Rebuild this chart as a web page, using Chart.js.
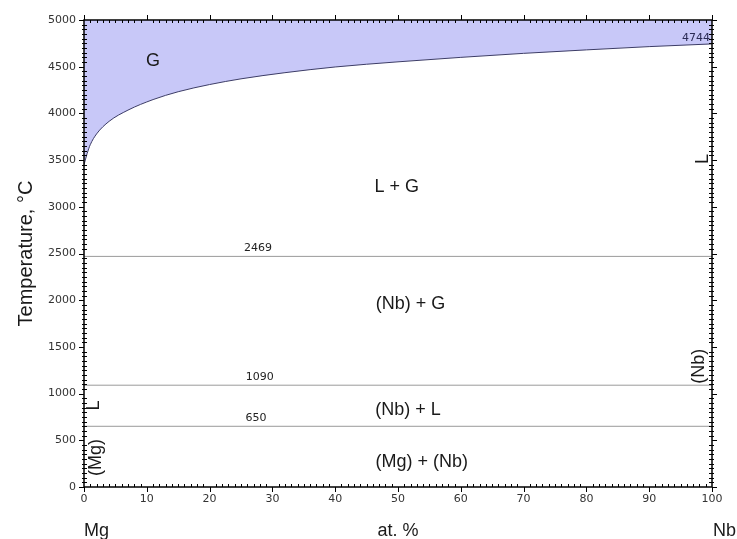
<!DOCTYPE html>
<html>
<head>
<meta charset="utf-8">
<script src="https://cdn.jsdelivr.net/npm/chart.js@4"></script>
<style>
    body { margin: 0; background: #fff; }
    #wrap { width: 737px; height: 539px; }
</style>
</head>
<body>
<div id="wrap"><canvas id="phaseChart" width="737" height="539"></canvas></div>
<script>
// Composition, at.% Nb
const compNb = [0, 0.5, 1, 2, 4, 7, 11, 15, 20, 25, 32, 40, 50, 60, 70, 80, 90, 100];
// Gas boundary (L + G / G), degC
const gasLine = [3450, 3570, 3665, 3780, 3915, 4035, 4148, 4232, 4309, 4370, 4436, 4497, 4552, 4600, 4643, 4680, 4715, 4744];

// Invariant temperatures
const isotherms = [2469, 1090, 650];

// Phase labels
const phaseLabels = ["G", "L + G", "(Nb) + G", "(Nb) + L", "(Mg) + (Nb)"];
const phaseX = [11.0, 49.8, 52.0, 51.6, 53.8];
const phaseY = [4561, 3217, 1957, 829, 262];

const FONT = "'Liberation Sans', Arial, sans-serif";

// Build datasets from the arrays
const datasets = [
    {
        data: compNb.map((c, i) => ({ x: c, y: gasLine[i] })),
        borderColor: "#3c3c66",
        borderWidth: 1,
        backgroundColor: "rgba(200, 200, 248, 1)",
        fill: "end",
        pointRadius: 0,
        cubicInterpolationMode: "monotone"
    }
];
isotherms.forEach(t => {
    datasets.push({
        data: [{ x: 0, y: t }, { x: 100, y: t }],
        borderColor: "#9a9a9a",
        borderWidth: 1,
        pointRadius: 0,
        fill: false
    });
});

// Frame, tick marks and texts
const decorPlugin = {
    id: "decor",
    afterDatasetsDraw(chart) {
        const { ctx, chartArea: a, scales: { x, y } } = chart;
        ctx.save();
        ctx.strokeStyle = "#000";
        ctx.lineWidth = 1;
        ctx.beginPath();
        for (let v = 0; v <= 100; v += 1) {
            const px = Math.round(x.getPixelForValue(v)) + 0.5;
            if (v % 10 === 0) {
                ctx.moveTo(px, a.bottom); ctx.lineTo(px, a.bottom + 5);
                ctx.moveTo(px, a.top); ctx.lineTo(px, a.top - 5);
            } else {
                ctx.moveTo(px, a.bottom - 3); ctx.lineTo(px, a.bottom);
                ctx.moveTo(px, a.top + 3); ctx.lineTo(px, a.top);
            }
        }
        for (let v = 0; v <= 5000; v += 50) {
            const py = Math.round(y.getPixelForValue(v)) + 0.5;
            if (v % 500 === 0) {
                ctx.moveTo(a.left - 5, py); ctx.lineTo(a.left, py);
                ctx.moveTo(a.right, py); ctx.lineTo(a.right + 5, py);
            } else {
                ctx.moveTo(a.left - 2, py); ctx.lineTo(a.left + 3, py);
                ctx.moveTo(a.right - 3, py); ctx.lineTo(a.right + 2, py);
            }
        }
        ctx.stroke();
        ctx.lineWidth = 1.5;
        ctx.strokeRect(a.left, a.top, a.right - a.left, a.bottom - a.top);

        // phase labels
        ctx.fillStyle = "#1a1a1a";
        ctx.font = "18px " + FONT;
        ctx.textAlign = "center";
        ctx.textBaseline = "middle";
        phaseLabels.forEach((t, i) => {
            ctx.fillText(t, x.getPixelForValue(phaseX[i]), y.getPixelForValue(phaseY[i]));
        });

        // isotherm values
        ctx.font = "11px 'DejaVu Sans', sans-serif";
        ctx.fillStyle = "#222";
        ctx.textBaseline = "bottom";
        const isoX = [27.7, 28.0, 27.4];
        isotherms.forEach((t, i) => {
            ctx.fillText(String(t), x.getPixelForValue(isoX[i]), y.getPixelForValue(t) - 3);
        });
        ctx.textAlign = "right";
        ctx.textBaseline = "middle";
        ctx.fillStyle = "#2b2b55";
        ctx.fillText(String(gasLine[gasLine.length - 1]), a.right - 2, y.getPixelForValue(4744) - 6);

        // rotated phase names at the edges
        const rot = (t, xv, yv) => {
            ctx.save();
            ctx.translate(x.getPixelForValue(xv), y.getPixelForValue(yv));
            ctx.rotate(-Math.PI / 2);
            ctx.font = "18px " + FONT;
            ctx.textAlign = "center";
            ctx.textBaseline = "middle";
            ctx.fillStyle = "#1a1a1a";
            ctx.fillText(t, 0, 0);
            ctx.restore();
        };
        rot("L", 1.6, 872);
        rot("(Mg)", 1.9, 315);
        rot("L", 98.5, 3513);
        rot("(Nb)", 97.9, 1294);

        // axis titles
        ctx.font = "18px " + FONT;
        ctx.textAlign = "center";
        ctx.textBaseline = "middle";
        ctx.fillStyle = "#1a1a1a";
        ctx.fillText("Mg", x.getPixelForValue(2.0), 531);
        ctx.fillText("at. %", (a.left + a.right) / 2, 531);
        ctx.fillText("Nb", x.getPixelForValue(102), 531);
        ctx.save();
        ctx.translate(26, y.getPixelForValue(2500));
        ctx.rotate(-Math.PI / 2);
        ctx.font = "20px " + FONT;
        ctx.fillText("Temperature, \u00B0C", 0, 0);
        ctx.restore();
        ctx.restore();
    }
};

const ctx = document.getElementById("phaseChart").getContext("2d");
new Chart(ctx, {
    type: "line",
    data: { datasets: datasets },
    options: {
        responsive: false,
        animation: false,
        layout: { padding: { left: 0, right: 25, top: 20, bottom: 0 } },
        plugins: { legend: { display: false }, tooltip: { enabled: false } },
        scales: {
            x: {
                type: "linear",
                min: 0,
                max: 100,
                grid: { display: false, drawTicks: false, tickLength: 0 },
                border: { display: false },
                ticks: {
                    stepSize: 10,
                    padding: 6,
                    color: "#333",
                    font: { size: 11, family: "'DejaVu Sans', sans-serif" },
                    maxRotation: 0,
                    callback: (v) => String(v)
                },
                afterFit: (s) => { s.height = 52; }
            },
            y: {
                min: 0,
                max: 5000,
                grid: { display: false, drawTicks: false, tickLength: 0 },
                border: { display: false },
                ticks: {
                    stepSize: 500,
                    padding: 8,
                    color: "#333",
                    font: { size: 11, family: "'DejaVu Sans', sans-serif" },
                    callback: (v) => String(v)
                },
                afterFit: (s) => { s.width = 84; }
            }
        }
    },
    plugins: [decorPlugin]
});
</script>
</body>
</html>
